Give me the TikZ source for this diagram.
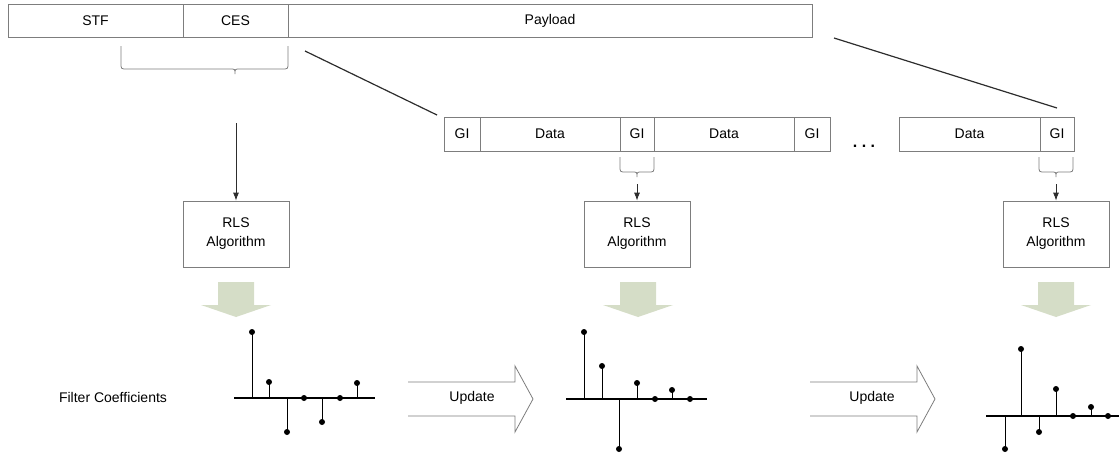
\documentclass[tikz,border=0pt]{standalone}
\usepackage{fontspec}
\setmainfont{Liberation Sans}
\usepackage{xcolor}
\usepackage{tikz}
\usetikzlibrary{positioning,arrows.meta}

\definecolor{cellgray}{RGB}{125,125,125}
\definecolor{linedark}{RGB}{45,45,45}
\definecolor{sage}{RGB}{213,221,199}

\newcommand{\fs}{\fontsize{14}{17}\selectfont}
% curly brace: left x, right x, tip x, top y, bar y, tip y
\newcommand{\curly}[6]{%
    \draw[brc] (#1,#4) -- (#1,#5-6) .. controls (#1,#5) .. (#1+6,#5) -- (#3-5,#5) .. controls (#3,#5) .. (#3,#6) .. controls (#3,#5) .. (#3+5,#5) -- (#2-6,#5) .. controls (#2,#5) .. (#2,#5-6) -- (#2,#4);}

\tikzset{
    cell/.style={rectangle, draw=cellgray, line width=0.8pt, inner sep=0pt, outer sep=0pt, minimum height=34pt, font=\fs},
    rls/.style={rectangle, draw=cellgray, line width=0.8pt, minimum width=106pt, minimum height=66pt, align=center, font=\fs},
    brc/.style={draw=cellgray, line width=0.8pt},
    arr/.style={draw=linedark, line width=0.8pt, -{Latex[length=8pt,width=6pt]}},
    diag/.style={draw=linedark, line width=1.2pt},
    axisline/.style={line width=1.2pt},
    stem/.style={line width=1pt},
    fatdown/.pic={\fill[sage] (-18,0) -- (18,0) -- (18,23) -- (35,23) -- (0,35) -- (-35,23) -- (-18,23) -- cycle;},
    updarrow/.pic={\draw[cellgray, line width=0.8pt] (0,-17) -- (107,-17) -- (107,-33) -- (125,0) -- (107,33) -- (107,17) -- (0,17);}
}

\begin{document}
\begin{tikzpicture}[x=1pt, y=-1pt]
    \useasboundingbox (0,0) rectangle (1119,456);

    % frame
    \node(stf) [cell, minimum width=175pt, minimum height=33pt, anchor=north west] at (8,4) {STF};
    \node(ces) [cell, minimum width=105pt, minimum height=33pt, right=0pt of stf] {CES};
    \node(payload) [cell, minimum width=524pt, minimum height=33pt, right=0pt of ces] {Payload};

    % payload blocks
    \node(gia) [cell, minimum width=36pt, anchor=north west] at (444,117) {GI};
    \node(dataa) [cell, minimum width=140pt, right=0pt of gia] {Data};
    \node(gib) [cell, minimum width=34pt, right=0pt of dataa] {GI};
    \node(datab) [cell, minimum width=140pt, right=0pt of gib] {Data};
    \node(gic) [cell, minimum width=36pt, right=0pt of datab] {GI};
    \node(dots) [font=\fontsize{16}{18}\selectfont\bfseries] at (864,146) {.\ .\ .};
    \node(datan) [cell, minimum width=141pt, anchor=north west] at (899,117) {Data};
    \node(gin) [cell, minimum width=34pt, right=0pt of datan] {GI};

    \coordinate (l1a) at (305,51);
    \coordinate (l1b) at (437,115);
    \coordinate (l2a) at (834,38);
    \coordinate (l2b) at (1057,108);
    \draw[diag] (l1a) -- (l1b);
    \draw[diag] (l2a) -- (l2b);

    \curly{121}{288}{235}{46}{69}{74}
    \curly{620}{654}{637}{157}{172}{177}
    \curly{1039}{1073}{1056}{157}{172}{177}

    \node(rlsa) [rls] at (236,234) {RLS\\[2pt]Algorithm};
    \node(rlsb) [rls] at (637,234) {RLS\\[2pt]Algorithm};
    \node(rlsc) [rls] at (1056,234) {RLS\\[2pt]Algorithm};

    \coordinate (ta) at (236,123);
    \coordinate (tb) at (637,184);
    \coordinate (tc) at (1056,184);
    \draw[arr] (ta) -- (rlsa.north);
    \draw[arr] (tb) -- (rlsb.north);
    \draw[arr] (tc) -- (rlsc.north);

    \pic at (236,282) {fatdown};
    \pic at (638,282) {fatdown};
    \pic at (1056,282) {fatdown};

    % coefficients
    \node(filt) [font=\fs] at (113,397) {Filter Coefficients};
    \draw[axisline] (234,398) -- (375,398);
    \foreach \x/\v in {252/332, 269/382, 287/432, 304/398, 322/422, 340/398, 357/383}
        {\draw[stem] (\x,398) -- (\x,\v); \fill (\x,\v) circle (3pt);}

    \draw[axisline] (566,399) -- (707,399);
    \foreach \x/\v in {584/332, 602/366, 619/449, 637/383, 655/399, 672/390, 690/399}
        {\draw[stem] (\x,399) -- (\x,\v); \fill (\x,\v) circle (3pt);}

    \draw[axisline] (986,416) -- (1119,416);
    \foreach \x/\v in {1005/449, 1021/349, 1039/432, 1056/389, 1073/416, 1091/407, 1108/416}
        {\draw[stem] (\x,416) -- (\x,\v); \fill (\x,\v) circle (3pt);}

    \pic at (408,399) {updarrow};
    \pic at (810,399) {updarrow};
    \node(upda) [font=\fs] at (472,398) {Update};
    \node(updb) [font=\fs] at (872,398) {Update};
\end{tikzpicture}
\end{document}
